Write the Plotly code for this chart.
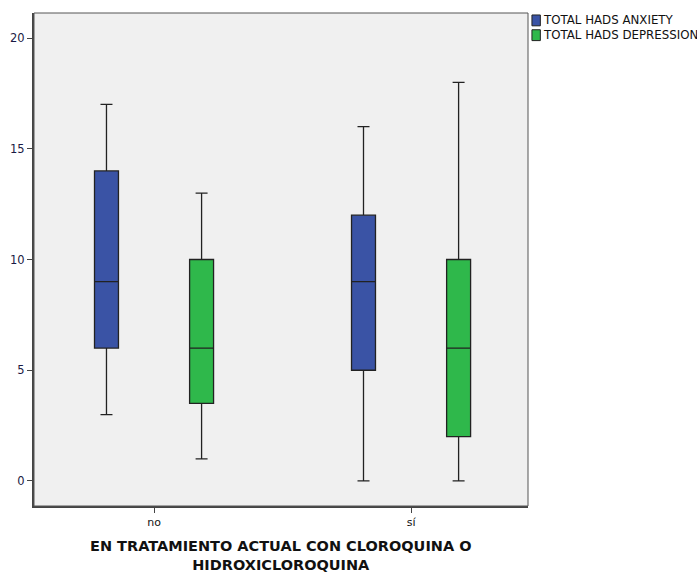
import plotly.graph_objects as go

# Five-number summaries per treatment group
groups = ["no", "sí"]
series_names = ["TOTAL HADS ANXIETY", "TOTAL HADS DEPRESSION"]

anx_min = [3, 0]
anx_q1 = [6, 5]
anx_med = [9, 9]
anx_q3 = [14, 12]
anx_max = [17, 16]

dep_min = [1, 0]
dep_q1 = [3.5, 2]
dep_med = [6, 6]
dep_q3 = [10, 10]
dep_max = [13, 18]

colors = ["#3a53a5", "#2fb84b"]
x_title = ["EN TRATAMIENTO ACTUAL CON CLOROQUINA O", "HIDROXICLOROQUINA"]

fig = go.Figure()
stats = [
    (anx_min, anx_q1, anx_med, anx_q3, anx_max),
    (dep_min, dep_q1, dep_med, dep_q3, dep_max),
]
for name, color, (lo, q1, med, q3, hi) in zip(series_names, colors, stats):
    fig.add_trace(go.Box(
        name=name,
        x=groups,
        lowerfence=lo, q1=q1, median=med, q3=q3, upperfence=hi,
        fillcolor=color,
        line=dict(color="#222222", width=1.3),
        whiskerwidth=0.5,
        boxpoints=False,
        showlegend=False,
        hoverinfo="skip",
    ))

# Custom legend: colored square + label
leg_y0 = 0.985
for i, (name, color) in enumerate(zip(series_names, colors)):
    yc = leg_y0 - i * 0.030
    fig.add_shape(type="rect", xref="paper", yref="paper",
                  x0=1.008, x1=1.025, y0=yc - 0.011, y1=yc + 0.011,
                  fillcolor=color, line=dict(color="#222222", width=1))
    fig.add_annotation(xref="paper", yref="paper", x=1.027, y=yc,
                       text=name, showarrow=False, xanchor="left", yanchor="middle",
                       font=dict(family="DejaVu Sans", size=11.8, color="#111111"))

# Two-line axis title
fig.add_annotation(xref="paper", yref="paper", x=0.5, y=-0.1,
                   text="<b>" + "<br>".join(x_title) + "</b>", showarrow=False,
                   xanchor="center", yanchor="middle", align="center",
                   font=dict(family="DejaVu Sans", size=14.5, color="#111111"))

# Plot frame
fig.add_shape(type="rect", xref="paper", yref="paper", x0=0, x1=1, y0=0, y1=1,
              line=dict(color="#555555", width=1), fillcolor="rgba(0,0,0,0)", layer="above")

fig.update_layout(
    width=697, height=572,
    margin=dict(l=34, r=169, t=13, b=66),
    paper_bgcolor="white",
    plot_bgcolor="#f0f0f0",
    boxmode="group",
    boxgap=0.26,
    boxgroupgap=0.748,
    showlegend=False,
    font=dict(family="DejaVu Sans", size=11, color="#222244"),
    xaxis=dict(
        type="category",
        range=[-0.467, 1.455],
        automargin=False,
        showgrid=False, zeroline=False,
        showline=True, linecolor="#444444", linewidth=2,
        ticks="outside", ticklen=5, tickcolor="#444444",
        tickfont=dict(size=11, color="#111111"),
    ),
    yaxis=dict(
        range=[-1.13, 21.13],
        automargin=False,
        tickvals=[0, 5, 10, 15, 20],
        showgrid=False, zeroline=False,
        showline=True, linecolor="#444444", linewidth=2,
        ticks="outside", ticklen=5, tickcolor="#444444",
        tickfont=dict(size=11.5, color="#1a1a44"),
    ),
)

fig.write_html("out.html")
